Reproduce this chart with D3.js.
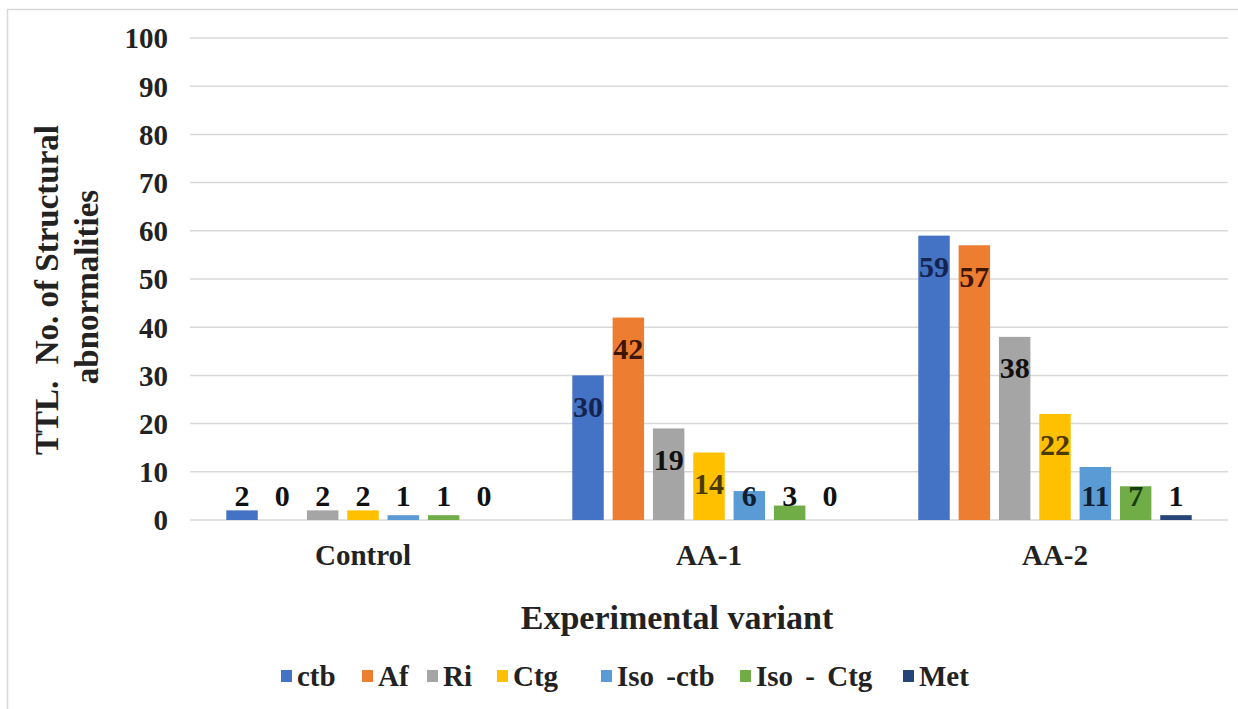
<!DOCTYPE html>
<html>
<head>
<meta charset="utf-8">
<script src="https://cdn.jsdelivr.net/npm/d3@7/dist/d3.min.js"></script>
<style>
  html, body { margin: 0; padding: 0; background: #fff; }
  #chart, #chart text { font-family: "Liberation Serif", Tinos, "Times New Roman", serif !important; font-weight: bold !important; }
</style>
</head>
<body>
<svg id="chart" width="1238" height="709" font-family="Liberation Serif, serif"></svg>
<script>
const categories = ["Control", "AA-1", "AA-2"];
const seriesNames = ["ctb", "Af", "Ri", "Ctg", "Iso -ctb", "Iso - Ctg", "Met"];
const ctbValues = [2, 30, 59];
const afValues = [0, 42, 57];
const riValues = [2, 19, 38];
const ctgValues = [2, 14, 22];
const isoCtbValues = [1, 6, 11];
const isoCtgValues = [1, 3, 7];
const metValues = [0, 0, 1];
const yTicks = [0, 10, 20, 30, 40, 50, 60, 70, 80, 90, 100];

const seriesValues = [ctbValues, afValues, riValues, ctgValues, isoCtbValues, isoCtgValues, metValues];
const colors = ["#4472C4", "#ED7D31", "#A5A5A5", "#FFC000", "#5B9BD5", "#70AD47", "#264478"];
const labelColors = ["#14244f", "#3d1500", "#111111", "#4a3a00", "#0f1e30", "#173d10", "#111111"];

const FONT = '"Liberation Serif", Tinos, "Times New Roman", serif';
const svg = d3.select("#chart");

function styleText(sel, size) {
  return sel.attr("font-family", FONT).attr("font-weight", "bold").attr("font-size", size)
    .style("font-family", FONT, "important");
}

// chart border
svg.append("rect").attr("x", 7.5).attr("y", 9.5).attr("width", 1260).attr("height", 720)
  .attr("fill", "none").attr("stroke", "#d9d9d9").attr("stroke-width", 1.5);

const x0 = d3.scaleBand().domain(categories).range([190, 1228]).padding(0);
const x1 = d3.scaleBand().domain(seriesNames).range([0, x0.bandwidth()]).paddingInner(0.22).paddingOuter(0.9);
const y = d3.scaleLinear().domain([0, 100]).range([520, 38]);

// gridlines
svg.append("g").selectAll("line").data(yTicks).join("line")
  .attr("x1", 190).attr("x2", 1228)
  .attr("y1", d => y(d)).attr("y2", d => y(d))
  .attr("stroke", "#d9d9d9").attr("stroke-width", 1.5);

// y axis labels
const yAxis = d3.axisLeft(y).tickValues(yTicks).tickSize(0).tickPadding(0);
const yg = svg.append("g").attr("transform", "translate(168,0)").call(yAxis);
yg.select(".domain").remove();
yg.attr("font-family", FONT).attr("font-size", 29);
styleText(yg.selectAll("text"), 29).attr("fill", "#222").attr("dy", "0.34em");

// bars
const data = [];
categories.forEach((c, ci) => {
  seriesNames.forEach((s, si) => {
    data.push({ cat: c, s, si, v: seriesValues[si][ci] });
  });
});

svg.append("g").selectAll("rect").data(data).join("rect")
  .attr("x", d => x0(d.cat) + x1(d.s))
  .attr("width", x1.bandwidth())
  .attr("y", d => y(d.v))
  .attr("height", d => y(0) - y(d.v))
  .attr("fill", d => colors[d.si]);

// data labels
styleText(svg.append("g").selectAll("text").data(data).join("text"), 30)
  .attr("x", d => x0(d.cat) + x1(d.s) + x1.bandwidth() / 2)
  .attr("y", d => Math.min(y(d.v) + 31, 495))
  .attr("dy", "0.35em")
  .attr("text-anchor", "middle")
  .attr("fill", d => (y(0) - y(d.v)) < 25 && d.v < 5 ? "#111" : labelColors[d.si])
  .text(d => d.v);

// x axis category labels
const xAxis = d3.axisBottom(x0).tickSize(0).tickPadding(0);
const xg = svg.append("g").attr("transform", "translate(0,555)").call(xAxis);
xg.select(".domain").remove();
xg.attr("font-family", FONT).attr("font-size", 29);
styleText(xg.selectAll("text"), 29).attr("fill", "#222").attr("dy", "0.35em");

// axis titles
styleText(svg.append("text"), 34).attr("x", 677).attr("y", 617).attr("dy", "0.35em")
  .attr("text-anchor", "middle").attr("fill", "#222")
  .text("Experimental variant");

styleText(svg.append("text"), 33).attr("transform", "translate(46,290) rotate(-90)")
  .attr("text-anchor", "middle").attr("dy", "0.35em").attr("fill", "#222")
  .text("TTL.\u00A0 No. of Structural");
styleText(svg.append("text"), 33).attr("transform", "translate(86,287) rotate(-90)")
  .attr("text-anchor", "middle").attr("dy", "0.35em").attr("fill", "#222")
  .text("abnormalities");

// legend
const legendX = [281, 362, 427, 497, 601, 740, 903];
const lg = svg.append("g").selectAll("g").data(seriesNames).join("g")
  .attr("transform", (d, i) => `translate(${legendX[i]},676)`);
lg.append("rect").attr("x", 0).attr("y", -6).attr("width", 11).attr("height", 12)
  .attr("fill", (d, i) => colors[i]);
styleText(lg.append("text"), 29).attr("x", 16).attr("dy", "0.35em").attr("fill", "#222")
  .attr("word-spacing", 5)
  .text(d => d);
</script>
</body>
</html>
